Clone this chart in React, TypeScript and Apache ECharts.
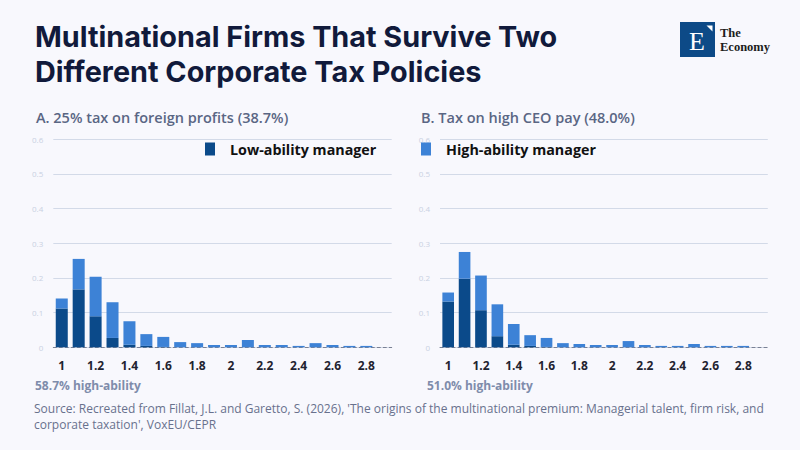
import React, { useEffect, useRef } from "react";
import * as echarts from "echarts";

const categories = ["1", "1.1", "1.2", "1.3", "1.4", "1.5", "1.6", "1.7", "1.8", "1.9", "2", "2.1", "2.2", "2.3", "2.4", "2.5", "2.6", "2.7", "2.8", "2.9"];

// Panel A: 25% tax on foreign profits
const lowA = [0.112, 0.167, 0.0895, 0.027, 0.007, 0.004, 0.001, 0, 0, 0, 0, 0, 0, 0, 0, 0, 0, 0, 0, 0];
const highA = [0.029, 0.088, 0.114, 0.103, 0.068, 0.034, 0.029, 0.015, 0.012, 0.0067, 0.0067, 0.021, 0.0067, 0.0067, 0.004, 0.012, 0.0067, 0.004, 0.004, 0];

// Panel B: Tax on high CEO pay
const lowB = [0.132, 0.198, 0.107, 0.032, 0.007, 0.004, 0.001, 0, 0, 0, 0, 0, 0, 0, 0, 0, 0, 0, 0, 0];
const highB = [0.026, 0.077, 0.1, 0.092, 0.06, 0.031, 0.026, 0.012, 0.0095, 0.0067, 0.0067, 0.018, 0.0067, 0.004, 0.004, 0.0095, 0.004, 0.004, 0.004, 0];

const FONT = "'Open Sans', 'Noto Sans', sans-serif";
const TITLE_FONT = "Inter, Roboto, sans-serif";
const DARK = "#0b4a8a";
const LIGHT = "#3d82d6";

export default function App() {
  const ref = useRef<HTMLDivElement>(null);
  useEffect(() => {
    if (!ref.current) return;
    const chart = echarts.init(ref.current, undefined, { renderer: "svg" });
    const xAxisBase = (gridIndex: number) => ({
      type: "category",
      gridIndex,
      data: categories,
      axisTick: { show: false },
      axisLine: { show: true, lineStyle: { color: "#7a8194", type: [3, 3], width: 1 } },
      axisLabel: {
        interval: 1,
        margin: 12,
        color: "#1f2330",
        fontSize: 12,
        fontWeight: 700,
        fontFamily: FONT,
      },
    });
    const yAxisBase = (gridIndex: number) => ({
      type: "value",
      gridIndex,
      min: 0,
      max: 0.6,
      interval: 0.1,
      axisLine: { show: false },
      axisTick: { show: false },
      splitLine: { lineStyle: { color: "#d3dae8", width: 1 } },
      axisLabel: { color: "#c9d1e2", fontSize: 8, margin: 10, fontFamily: FONT },
    });
    const barBase = { type: "bar", barWidth: "71%" };
    chart.setOption({
      animation: false,
      backgroundColor: "#f8f8fd",
      textStyle: { fontFamily: FONT },
      title: [
        {
          text: "Multinational Firms That Survive Two\nDifferent Corporate Tax Policies",
          left: 35,
          top: 18.5,
          padding: 0,
          textStyle: { fontSize: 28.8, fontWeight: 700, color: "#111a3b", lineHeight: 35, fontFamily: TITLE_FONT },
        },
        {
          text: "A. 25% tax on foreign profits (38.7%)",
          left: 36,
          top: 110,
          padding: 0,
          textStyle: { fontSize: 14.5, fontWeight: 600, color: "#5a6684", fontFamily: FONT },
        },
        {
          text: "B. Tax on high CEO pay (48.0%)",
          left: 421,
          top: 110,
          padding: 0,
          textStyle: { fontSize: 14.5, fontWeight: 600, color: "#5a6684", fontFamily: FONT },
        },
        {
          text: "58.7% high-ability",
          left: 35,
          top: 379,
          padding: 0,
          textStyle: { fontSize: 12, fontWeight: 700, color: "#7f8cab", fontFamily: FONT },
        },
        {
          text: "51.0% high-ability",
          left: 427,
          top: 379,
          padding: 0,
          textStyle: { fontSize: 12, fontWeight: 700, color: "#7f8cab", fontFamily: FONT },
        },
        {
          text:
            "Source: Recreated from Fillat, J.L. and Garetto, S. (2026), 'The origins of the multinational premium: Managerial talent, firm risk, and\ncorporate taxation', VoxEU/CEPR",
          left: 34,
          top: 400,
          padding: 0,
          textStyle: { fontSize: 12, fontWeight: 400, color: "#68718d", lineHeight: 16, fontFamily: FONT },
        },
      ],
      legend: [
        {
          data: ["Low-ability manager"],
          left: 205,
          top: 142,
          itemWidth: 10,
          itemHeight: 13,
          icon: "rect",
          padding: 0,
          textStyle: { fontSize: 14.3, fontWeight: 700, color: "#111111", padding: [0, 0, 0, 10], fontFamily: FONT },
        },
        {
          data: ["High-ability manager"],
          left: 421,
          top: 142,
          itemWidth: 10,
          itemHeight: 13,
          icon: "rect",
          padding: 0,
          textStyle: { fontSize: 14.3, fontWeight: 700, color: "#111111", padding: [0, 0, 0, 10], fontFamily: FONT },
        },
      ],
      grid: [
        { left: 53.3, top: 139.3, width: 338.4, height: 208 },
        { left: 440, top: 139.3, width: 327.8, height: 208 },
      ],
      xAxis: [xAxisBase(0), xAxisBase(1)],
      yAxis: [yAxisBase(0), yAxisBase(1)],
      series: [
        { ...barBase, name: "Low-ability manager", xAxisIndex: 0, yAxisIndex: 0, stack: "a", data: lowA, itemStyle: { color: DARK } },
        { ...barBase, name: "High-ability manager", xAxisIndex: 0, yAxisIndex: 0, stack: "a", data: highA, itemStyle: { color: LIGHT } },
        { ...barBase, name: "Low-ability manager", xAxisIndex: 1, yAxisIndex: 1, stack: "b", data: lowB, itemStyle: { color: DARK } },
        { ...barBase, name: "High-ability manager", xAxisIndex: 1, yAxisIndex: 1, stack: "b", data: highB, itemStyle: { color: LIGHT } },
      ],
      graphic: [
        { type: "rect", left: 680, top: 22, shape: { width: 35, height: 35 }, style: { fill: "#0d4a87" } },
        {
          type: "text",
          left: 689,
          top: 28,
          style: { text: "E", fill: "#ffffff", font: "26px 'Liberation Serif', serif" },
        },
        {
          type: "polygon",
          shape: { points: [[706.5, 25.5], [712.5, 25.5], [712.5, 31.5]] },
          style: { fill: "#ffffff" },
        },
        {
          type: "text",
          left: 720,
          top: 26.5,
          style: { text: "The", fill: "#1c1c1c", font: "600 12.5px 'Liberation Serif', serif", lineHeight: 12.5 },
        },
        {
          type: "text",
          left: 720,
          top: 40,
          style: { text: "Economy", fill: "#1c1c1c", font: "600 12.5px 'Liberation Serif', serif", lineHeight: 12.5 },
        },
      ],
    });
    return () => chart.dispose();
  }, []);
  return <div ref={ref} style={{ position: "absolute", left: 0, top: 0, width: 800, height: 450 }} />;
}
